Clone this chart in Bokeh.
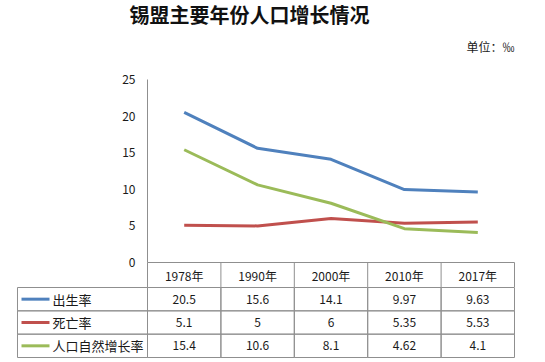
from bokeh.plotting import figure
from bokeh.layouts import column
from bokeh.models import FactorRange, Range1d, FixedTicker
from bokeh.core.properties import value
from bokeh.embed import file_html
from bokeh.resources import INLINE

# ---------------- data ----------------
title_text = "锡盟主要年份人口增长情况"
unit_text = "单位：‰"
years = ["1978年", "1990年", "2000年", "2010年", "2017年"]
series_names = ["出生率", "死亡率", "人口自然增长率"]
birth_rate = [20.5, 15.6, 14.1, 9.97, 9.63]
death_rate = [5.1, 5, 6, 5.35, 5.53]
natural_rate = [15.4, 10.6, 8.1, 4.62, 4.1]
y_ticks = [0, 5, 10, 15, 20, 25]

series_values = [birth_rate, death_rate, natural_rate]
colors = ["#4F81BD", "#C0504D", "#9BBB59"]

# ---------------- layout (px) ----------------
FONT = "Noto Sans CJK SC"
LEFT = 147
FRAME_W = 367
RIGHT = 31
TOP = 79
FRAME_H = 183
HEADER_H = 25
TABLE_H = 70
BOTTOM = 5
LABEL_COL_W = 130
GRID = "#8f8f8f"
TEXT = "#1a1a1a"

Y_MAX = y_ticks[-1]
px_x = FRAME_W / len(years)
px_y = FRAME_H / Y_MAX

x_range = FactorRange(*years, range_padding=0)

# ---------------- chart ----------------
p = figure(frame_width=FRAME_W, frame_height=FRAME_H, x_range=x_range,
           y_range=Range1d(0, Y_MAX), output_backend="svg", toolbar_location=None,
           min_border_left=LEFT, min_border_right=RIGHT, min_border_top=TOP,
           min_border_bottom=HEADER_H)
p.outline_line_color = None
p.grid.visible = False
p.background_fill_color = "white"
p.border_fill_color = "white"

p.yaxis.ticker = FixedTicker(ticks=y_ticks)
p.yaxis.axis_line_color = GRID
p.yaxis.major_tick_line_color = None
p.yaxis.minor_tick_line_color = None
p.yaxis.major_tick_out = 0
p.yaxis.major_tick_in = 0
p.yaxis.major_label_standoff = 12
p.yaxis.major_label_text_font = FONT
p.yaxis.major_label_text_font_size = "12px"
p.yaxis.major_label_text_color = TEXT

p.xaxis.axis_line_color = GRID
p.xaxis.major_tick_line_color = None
p.xaxis.minor_tick_line_color = None
p.xaxis.major_tick_out = 0
p.xaxis.major_tick_in = 0
p.xaxis.major_label_standoff = 4
p.xaxis.major_label_text_font = FONT
p.xaxis.major_label_text_font_size = "12px"
p.xaxis.major_label_text_color = TEXT

# header row vertical separators
bounds = list(range(len(years) + 1))
p.segment(x0=bounds, y0=[0] * len(bounds), x1=bounds,
          y1=[-HEADER_H / px_y] * len(bounds), line_color=GRID, line_width=1,
          level="overlay")

for vals, c in zip(series_values, colors):
    p.line(x=years, y=vals, line_color=c, line_width=3, line_join="round")

# title and unit (outside the frame, so drawn at overlay level)
p.text(x=[102 / px_x], y=[Y_MAX + 65 / px_y], text=[title_text],
       text_align="center", text_baseline="middle",
       text_font=value(FONT), text_font_size="20px", text_font_style="bold",
       text_color="#111111", level="overlay")
p.text(x=[len(years)], y=[Y_MAX + 33 / px_y], text=[unit_text],
       text_align="right", text_baseline="middle",
       text_font=value(FONT), text_font_size="12px", text_color=TEXT,
       level="overlay")

# ---------------- table ----------------
t = figure(frame_width=FRAME_W, frame_height=TABLE_H, x_range=x_range,
           y_range=FactorRange(*series_names[::-1], range_padding=0),
           output_backend="svg", toolbar_location=None,
           min_border_left=LEFT, min_border_right=RIGHT, min_border_top=0,
           min_border_bottom=BOTTOM)
t.outline_line_color = None
t.grid.visible = False
t.axis.visible = False

cx, cy, ctext = [], [], []
for name, vals in zip(series_names, series_values):
    for yr, v in zip(years, vals):
        cx.append(yr)
        cy.append(name)
        ctext.append(f"{v:g}")

t.rect(x=cx, y=cy, width=1, height=1, fill_color=None, line_color=GRID,
       line_width=1, level="overlay")
t.text(x=cx, y=cy, text=ctext, text_align="center", text_baseline="middle",
       text_font=value(FONT), text_font_size="12px", text_color=TEXT,
       level="overlay")

n = len(series_names)
t.rect(x=[-LABEL_COL_W / 2 / px_x] * n, y=series_names,
       width=LABEL_COL_W / px_x, height=1, fill_color=None, line_color=GRID,
       line_width=1, level="overlay")
t.segment(x0=[-126 / px_x] * n, y0=series_names, x1=[-98 / px_x] * n,
          y1=series_names, line_color=colors, line_width=3, level="overlay")
t.text(x=[-95 / px_x] * n, y=series_names, text=series_names,
       text_align="left", text_baseline="middle", text_font=value(FONT),
       text_font_size="13px", text_color=TEXT, level="overlay")

layout = column(p, t, spacing=0)
open("out.html", "w").write(file_html(layout, INLINE))
